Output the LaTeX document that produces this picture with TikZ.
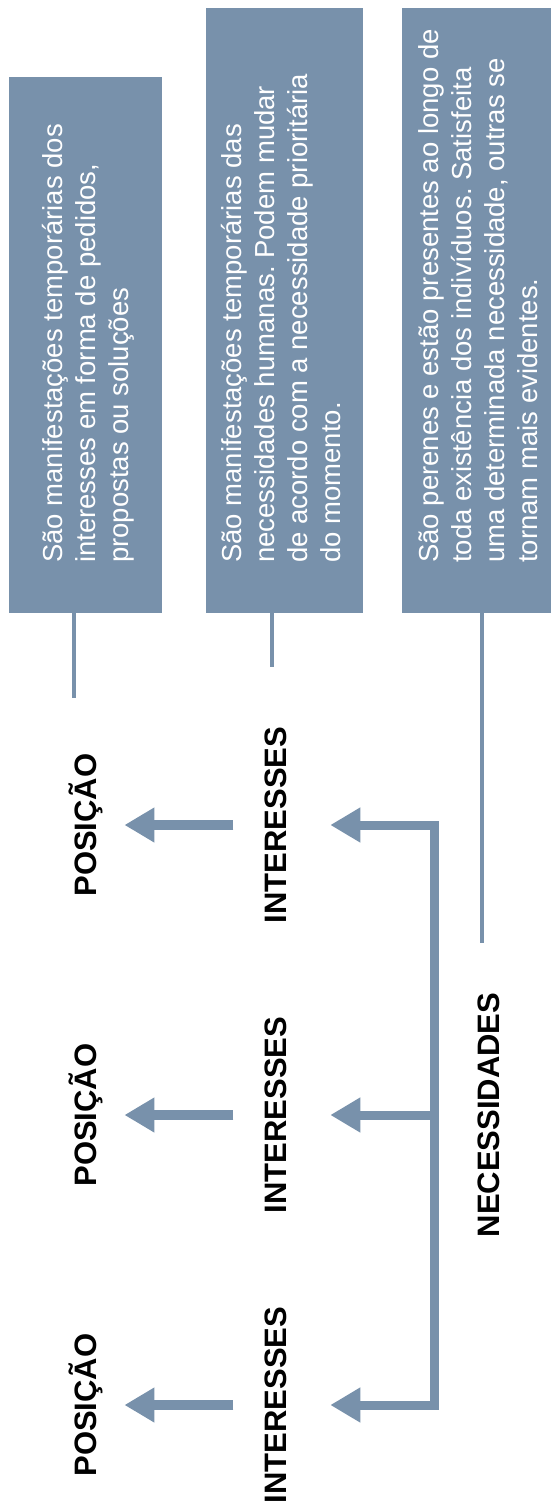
\documentclass[tikz,border=0pt]{standalone}
\usepackage{fontspec}
\setmainfont{Liberation Sans}
\usetikzlibrary{arrows.meta}
\definecolor{slate}{RGB}{120,145,171}
\frenchspacing
\tikzset{
  panel/.style = {fill = slate, inner sep = 0pt, outer sep = 0pt},
  blurb/.style = {rotate = 90, anchor = north west, align = left, text = white,
    inner sep = 0pt, font = \fontsize{27.5}{33}\selectfont},
  tag/.style = {rotate = 90, anchor = base, inner sep = 0pt, outer sep = 0pt,
    font = \fontsize{31}{37}\selectfont\bfseries},
  link/.style = {draw = slate, line width = 3.5pt},
  flow/.style = {draw = slate, line width = 10pt, -{Triangle[width = 33pt, length = 30pt]}},
}

\begin{document}
\begin{tikzpicture}[x = 1pt, y = -1pt]
%\draw [help lines, step = 50] (0,0) grid (551,1504);
\useasboundingbox (0,0) rectangle (551,1504);

% the three boxes
\node [panel, minimum width = 153pt, minimum height = 536pt] (b1) at (85.5,345) {};
\node [panel, minimum width = 157pt, minimum height = 605pt] (b2) at (284.5,310.5) {};
\node [panel, minimum width = 149pt, minimum height = 605pt] (b3) at (476.5,310.5) {};
\node [blurb] (t1) at (42,563) {São manifestações temporárias dos\\interesses em forma de pedidos,\\propostas ou soluções};
\node [blurb] (t2) at (221,563) {São manifestações temporárias das\\necessidades humanas. Podem mudar\\de acordo com a necessidade prioritária\\do momento.};
\node [blurb] (t3) at (418,563) {São perenes e estão presentes ao longo de\\toda existência dos indivíduos. Satisfeita\\uma determinada necessidade, outras se\\tornam mais evidentes.};

% labels
\node [tag] (pos1) at (96,825) {POSIÇÃO};
\node [tag] (pos2) at (96,1115) {POSIÇÃO};
\node [tag] (pos3) at (96,1405) {POSIÇÃO};
\node [tag] (int1) at (286,825) {INTERESSES};
\node [tag] (int2) at (286,1115) {INTERESSES};
\node [tag] (int3) at (286,1405) {INTERESSES};
\node [tag] (nec) at (499,1115) {NECESSIDADES};

% thin lines below the boxes
\coordinate (e1) at (74,698);
\coordinate (e2) at (272,667);
\coordinate (e3) at (482,943);
\draw [link] (e1 |- b1.south) -- (e1);
\draw [link] (e2 |- b2.south) -- (e2);
\draw [link] (e3 |- b3.south) -- (e3);

% interesses -> posicao
\foreach \i in {1,2,3}
  \draw [flow, shorten < = 31pt, shorten > = 22pt] (int\i) -- (pos\i);

% necessidades bracket
\coordinate (brt) at (434,825);
\coordinate (brb) at (434,1405);
\draw [flow, line width = 9pt, shorten > = 44pt] (brt) -- (int1);
\draw [flow, line width = 9pt, shorten > = 44pt] (brt |- int2) -- (int2);
\draw [flow, line width = 9pt, shorten > = 44pt] (brb) -- (int3);
\draw [draw = slate, line width = 9pt, line cap = rect] (brt) -- (brb);
\end{tikzpicture}
\end{document}
